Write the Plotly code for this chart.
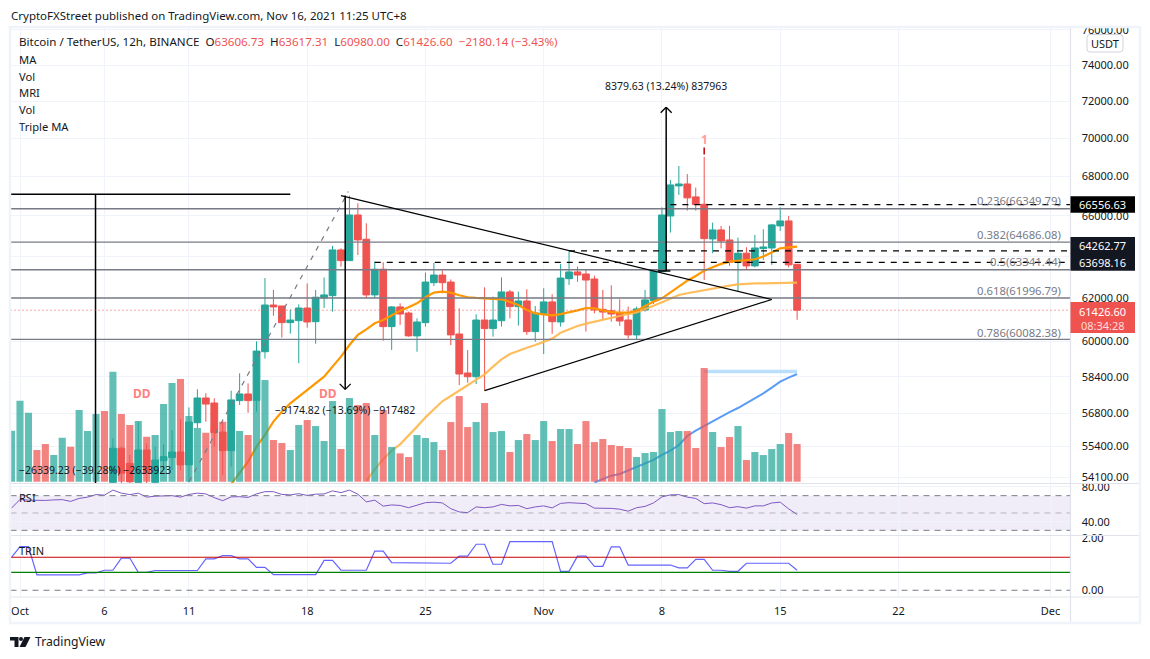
import numpy as np
import pandas as pd
import plotly.graph_objects as go

W, H = 1150, 659
# the page keeps its 8px body margin, so the figure is a bit smaller than the window
FIG_W, FIG_H = W - 16, H - 16
FONT = "Noto Sans"
GREEN, RED = "#26a69a", "#ef5350"
GREY = "#787b86"
GRID = "#f0f3fa"

# 12h bars, first one is Sep 30 12:00, last one Nov 16 00:00
bar_times = pd.date_range("2021-09-30 12:00", periods=94, freq="12h")

# candles start at bar 12, older ones sit below the visible price range
cand_open = [53900, 55310, 54680, 53900, 55240, 53900, 54790, 54920, 55155, 54615,
             56395, 57465, 57245, 55995, 55210, 57350, 57640, 57350, 59520, 61670,
             61625, 60850, 60940, 61530, 60895, 62000, 62110, 64305, 63785, 66035,
             64830, 62145, 63370, 60665, 61580, 61295, 60240, 60850, 62725, 63090,
             62755, 60325, 58565, 58400, 60970, 60575, 60940, 62285, 61595, 61860,
             60435, 61265, 61815, 60880, 62915, 63240, 63140, 62900, 61465, 61400,
             61310, 60970, 60285, 61435, 61875, 63250, 65985, 67510, 67610, 66950,
             66575, 64845, 65290, 64795, 63705, 64145, 63530, 64370, 64400, 65490,
             65737, 63606.73]
cand_close = [55310, 54270, 53920, 55240, 54270, 54820, 54960, 55155, 54615, 56425,
              57465, 57200, 55970, 55210, 57380, 57640, 57350, 59550, 61670, 61580,
              60850, 60970, 61530, 60880, 62035, 62145, 64305, 63785, 66035, 64795,
              62145, 63370, 60665, 61580, 61250, 60240, 60880, 62755, 63090, 62725,
              60285, 58520, 58400, 60970, 60575, 60970, 62285, 61595, 61860, 60435,
              61295, 61815, 60895, 62945, 63240, 63090, 62850, 61435, 61340, 61250,
              60925, 60285, 61485, 61910, 63290, 66035, 67560, 67610, 66900, 66560,
              64860, 65290, 64745, 63705, 64145, 63530, 64400, 64450, 65540, 65737,
              63580, 61426.60]
cand_high = [55730, 55375, 55030, 56440, 55515, 55375, 55475, 56085, 56555, 57055,
             57845, 57670, 57450, 56440, 57785, 58550, 58105, 59990, 62945, 62380,
             61625, 61465, 61700, 62690, 62380, 62975, 64500, 64385, 67015, 66625,
             65620, 63740, 63705, 61625, 61750, 61360, 61050, 63210, 63675, 63320,
             62880, 61515, 59595, 61235, 62505, 62065, 62975, 62380, 62300, 62410,
             61625, 62460, 62175, 63625, 64270, 63495, 63370, 63060, 62380, 62600,
             61940, 61595, 61595, 62380, 63320, 66420, 67813, 68540, 68120, 67425,
             69020, 65655, 65490, 65490, 64910, 64435, 65040, 65325, 65590, 66420,
             65985, 63617.31]
cand_low = [53500, 53800, 53600, 53600, 53800, 53700, 54405, 54405, 54405, 53900,
            56155, 56440, 55375, 54195, 54545, 57160, 56825, 56865, 59210, 61170,
            60160, 60345, 59000, 60620, 59880, 61530, 61360, 63495, 63785, 64060,
            61985, 61985, 60020, 59600, 60745, 60205, 59520, 60665, 62565, 62220,
            59820, 58035, 58135, 58075, 57785, 60205, 60665, 61050, 60710, 60285,
            59975, 59415, 60330, 60665, 62615, 62770, 60435, 61280, 60970, 60895,
            60695, 60115, 60085, 61360, 61720, 63250, 65160, 67050, 66255, 66255,
            62850, 64145, 64385, 63530, 62300, 63370, 63465, 63820, 63580, 65240,
            63465, 60980]

volume = [15300, 24300, 20700, 9500, 11300, 8000, 13200, 10500, 21500, 15200, 20300, 21200,
          33000, 20300, 17000, 18200, 13500, 14000, 23300, 29600, 30800, 19700, 16100, 14700,
          16700, 18000, 21500, 15200, 14000, 24300, 30500, 12500, 11600, 9500, 17000, 18500,
          16700, 12200, 24200, 9800, 25100, 23000, 23600, 14000, 21500, 10400, 8500, 7400,
          14000, 13100, 11900, 9500, 17900, 25700, 16400, 17900, 23600, 14900, 15200, 8900,
          12500, 14300, 12500, 18200, 12200, 15800, 15800, 11300, 18200, 11900, 12800, 11000,
          10700, 10100, 7400, 8600, 8900, 21800, 14900, 15200, 15200, 10100, 34100, 14900,
          10400, 13400, 16700, 6500, 8900, 8000, 9800, 11300, 14600, 11300]
# direction of the first 12 bars, their candles are off the chart
early_up = [True, True, True, False, False, True, True, False, True, True, True, False]

ma_fast = [53824, 54267, 54752, 55375, 55872, 56440, 56868, 57232, 57524, 57786, 58077, 58401,
           58850, 59298, 59823, 60283, 60543, 60819, 60972, 61202, 61405, 61562, 61750, 62033,
           62253, 62300, 62253, 62127, 62033, 62002, 61986, 61955, 61939, 61813, 61672, 61436,
           61279, 61233, 61187, 61248, 61326, 61420, 61530, 61515, 61420, 61342, 61310, 61310,
           61405, 61625, 61829, 61986, 62253, 62536, 62819, 63044, 63302, 63464, 63626, 63739,
           63787, 63820, 63852, 63981, 64175, 64385, 64434, 64466]
ma_mid = [53960, 54433, 54849, 55209, 55474, 55829, 56227, 56625, 56970, 57320, 57553, 57786,
          58004, 58252, 58506, 58850, 59178, 59417, 59567, 59701, 59823, 59976, 60114, 60390,
          60543, 60696, 60804, 60896, 61003, 61095, 61156, 61248, 61326, 61499, 61640, 61797,
          61986, 62143, 62222, 62300, 62363, 62441, 62520, 62583, 62646, 62677, 62693, 62693,
          62693, 62709, 62724, 62724]
ma_slow = [53893, 54032, 54170, 54239, 54378, 54516, 54655, 54821, 55029, 55209, 55446, 55829,
           56057, 56255, 56468, 56682, 56853, 57028, 57232, 57451, 57669, 57917, 58179, 58357,
           58521]
vol_band_level = 58631

rsi = [55.6, 65.7, 64.8, 64.5, 64.5, 65.1, 65.4, 63.4, 66.8, 68.3, 71.2, 70.6, 76.4, 72.9, 71.2,
       72.9, 68.3, 69.4, 70.0, 70.0, 68.3, 71.4, 72.9, 72.0, 67.7, 64.2, 68.6, 68.8, 68.0, 72.0,
       74.6, 74.6, 71.4, 70.9, 72.3, 70.3, 71.7, 72.0, 75.5, 73.5, 76.4, 71.7, 62.8, 64.8, 57.9,
       59.3, 58.7, 56.1, 59.0, 61.9, 62.5, 61.6, 55.0, 51.2, 50.4, 57.0, 56.1, 57.0, 59.9, 58.2,
       58.7, 55.0, 57.0, 58.2, 55.9, 61.1, 61.9, 61.6, 60.8, 55.6, 55.6, 55.3, 54.4, 52.1, 56.1,
       57.6, 61.6, 68.6, 70.9, 71.2, 68.3, 66.8, 60.8, 61.6, 59.6, 56.1, 57.3, 55.6, 58.2, 58.2,
       61.6, 62.5, 54.7, 48.3]

trin = [1.27, 1.68, 1.68, 0.59, 0.59, 0.59, 0.59, 0.59, 0.59, 0.67, 0.67, 0.77, 0.77, 1.24, 1.24,
        0.69, 0.69, 0.76, 0.76, 0.76, 0.76, 0.76, 0.76, 1.21, 1.21, 1.33, 1.33, 1.21, 1.21, 0.88,
        0.88, 0.60, 0.60, 0.60, 0.60, 0.60, 0.60, 1.15, 1.15, 0.77, 0.77, 0.77, 0.77, 1.51, 1.51,
        1.06, 1.06, 1.06, 1.06, 1.06, 1.05, 1.04, 1.04, 1.31, 1.31, 1.77, 1.77, 1.00, 1.00, 1.87,
        1.87, 1.87, 1.87, 1.87, 1.87, 0.73, 0.73, 1.31, 1.31, 0.92, 0.92, 1.67, 1.67, 0.97, 0.97,
        0.97, 0.97, 0.97, 0.97, 0.86, 0.86, 1.19, 1.19, 0.77, 0.77, 0.73, 0.73, 1.04, 1.04, 1.04,
        1.04, 1.04, 1.04, 0.77]
trin_upper, trin_lower = 1.27, 0.69

fib_prices = [66349.79, 64686.08, 63341.44, 61996.79, 60082.38]
fib_labels = ["0.236(66349.79)", "0.382(64686.08)", "0.5(63341.44)", "0.618(61996.79)", "0.786(60082.38)"]
pivot_prices = [66556.63, 64262.77, 63698.16]
pivot_start_bars = [78, 66, 43]
last_price = 61426.60
signal_price = 69320

price_ticks = [76000, 74000, 72000, 70000, 68000, 66000, 64000, 62000, 60000, 58400, 56800, 55400, 54100]
# 64000 has its grid line but the price tags hide the label
price_tick_labels = ["76000.00", "74000.00", "72000.00", "70000.00", "68000.00", "66000.00", "",
                     "62000.00", "60000.00", "58400.00", "56800.00", "55400.00", "54100.00"]
time_ticks = ["2021-10-01", "2021-10-06", "2021-10-11", "2021-10-18", "2021-10-25",
              "2021-11-01", "2021-11-08", "2021-11-15", "2021-11-22", "2021-12-01"]
time_labels = ["Oct", "6", "11", "18", "25", "Nov", "8", "15", "22", "Dec"]


def bar_t(i):
    return bar_times[0] + pd.Timedelta(hours=12 * i)


# window pixels to paper fractions
def px(x):
    return (x - 8) / FIG_W


def py(y):
    return 1 - (y - 8) / FIG_H


price_range = [np.log10(53870), np.log10(76173)]
x_range = ["2021-09-30 10:30", "2021-12-02 04:24"]

fig = go.Figure()

# price pane
fig.add_trace(go.Scatter(x=bar_times[69:], y=ma_slow, mode="lines", line=dict(color="#5b9cf6", width=2)))
fig.add_trace(go.Scatter(x=bar_times[82:], y=[vol_band_level] * 12, mode="lines",
                         line=dict(color="#bbdefb", width=3.5)))
fig.add_trace(go.Scatter(x=bar_times[42:], y=ma_mid, mode="lines",
                         line=dict(color="rgba(255,183,77,0.9)", width=2.2)))
fig.add_trace(go.Scatter(x=bar_times[26:], y=ma_fast, mode="lines", line=dict(color="#ff9800", width=2.2)))
fig.add_trace(go.Candlestick(
    x=bar_times[12:], open=cand_open, high=cand_high, low=cand_low, close=cand_close,
    increasing=dict(line=dict(color=GREEN, width=1), fillcolor=GREEN),
    decreasing=dict(line=dict(color=RED, width=1), fillcolor=RED),
    whiskerwidth=0,
))
fig.add_trace(go.Scatter(x=[bar_times[82]], y=[signal_price], mode="markers",
                         marker=dict(symbol="line-ns-open", size=5, color="#c00000", line=dict(width=1.5, color="#c00000"))))

# volume on top of the price pane, half see through
up_flags = early_up + [c >= o for o, c in zip(cand_open, cand_close)]
vol_colors = ["rgba(38,166,154,0.72)" if u else "rgba(239,83,80,0.72)" for u in up_flags]
fig.add_trace(go.Bar(x=bar_times, y=volume, marker=dict(color=vol_colors, line=dict(width=0)),
                     width=12 * 3600 * 1000 * 0.84, yaxis="y2"))

# lower panes
fig.add_trace(go.Scatter(x=bar_times, y=rsi, mode="lines", line=dict(color="#7e57c2", width=1), yaxis="y3"))
fig.add_trace(go.Scatter(x=bar_times, y=trin, mode="lines", line=dict(color="#6464ff", width=1.2), yaxis="y4"))

shapes = []


def add_line(x0, y0, x1, y1, color="#000000", width=1.5, dash=None):
    shapes.append(dict(type="line", xref="x", yref="y", x0=x0, y0=y0, x1=x1, y1=y1,
                       line=dict(color=color, width=width, dash=dash), layer="above"))


def add_hline(y, yref, color, width=1, dash=None):
    shapes.append(dict(type="line", xref="x domain", yref=yref, x0=0, x1=1, y0=y, y1=y,
                       line=dict(color=color, width=width, dash=dash), layer="above"))


def add_chevron(bar, price, factor):
    # arrow head legs, factor moves the leg ends up or down on the log axis
    for db in (-0.65, 0.65):
        add_line(bar_t(bar), price, bar_t(bar + db), price * factor, width=1.3)


def add_paper_line(x0, y0, x1, y1, color, width=1):
    shapes.append(dict(type="line", xref="paper", yref="paper", x0=px(x0), x1=px(x1), y0=py(y0), y1=py(y1),
                       line=dict(color=color, width=width), layer="above"))


# drawings on the chart
for p in fib_prices:
    add_hline(p, "y", GREY, 1.4)
for p, start in zip(pivot_prices, pivot_start_bars):
    add_line(bar_t(start), p, x_range[1], p, width=1.3, dash="6px,6px")
add_line(bar_t(21), 53920, bar_t(39.87), 67220, color=GREY, width=1.2, dash="5px,6px")
# triangle
add_line(bar_t(39), 67015, bar_t(90), 61930, width=1.2)
add_line(bar_t(56), 57785, bar_t(90), 61930, width=1.2)
# measure tools
add_line(x_range[0], 67085, bar_t(33), 67085)
add_line(bar_t(9.94), 67085, bar_t(9.94), 40746)
add_line(bar_t(39.5), 67015, bar_t(39.5), 57840)
add_chevron(39.5, 57840, 1.0042)
add_line(bar_t(77.5), 63286, bar_t(77.5), 71666)
add_line(bar_t(76.5), 63286, bar_t(78), 63286)
add_chevron(77.5, 71666, 0.9958)
# last price
add_hline(last_price, "y", RED, 1, "1px,3px")

# rsi pane
shapes.append(dict(type="rect", xref="x domain", yref="y3", x0=0, x1=1, y0=30, y1=70,
                   fillcolor="rgba(126,87,194,0.11)", line=dict(width=0), layer="below"))
add_hline(70, "y3", GREY, 1, "6px,5px")
add_hline(50, "y3", "rgba(120,123,134,0.5)", 1, "6px,5px")
add_hline(30, "y3", GREY, 1, "6px,5px")
# trin pane
add_hline(trin_upper, "y4", "#cc0000", 1.2)
add_hline(trin_lower, "y4", "#008000", 1.2)
add_hline(0, "y4", GREY, 1, "6px,5px")

# cover above the pane, cuts the top tick label like the original
shapes.append(dict(type="rect", xref="paper", yref="paper", x0=0, x1=1, y0=py(27), y1=1,
                   fillcolor="white", line=dict(width=0), layer="above"))
# frame and separators
for y in (483.5, 535.5, 597):
    add_paper_line(10, y, 1140, y, "#e0e3eb", 1.2)
add_paper_line(1070.5, 27, 1070.5, 623, "#e0e3eb", 1.2)
shapes.append(dict(type="rect", xref="paper", yref="paper", x0=px(10), x1=px(1140), y0=py(623), y1=py(27),
                   line=dict(color=GRID, width=2.5), layer="above"))
# currency button
shapes.append(dict(type="path", xref="paper", yref="paper", layer="above", fillcolor="white",
                   line=dict(color="#d1d4dc", width=1),
                   path="M {} {} L {} {} Q {} {} {} {} L {} {} Q {} {} {} {} L {} {} Q {} {} {} {} L {} {} Q {} {} {} {} Z".format(
                       px(1090), py(34.5), px(1120), py(34.5), px(1123), py(34.5), px(1123), py(37.5),
                       px(1123), py(49), px(1123), py(52), px(1120), py(52),
                       px(1090), py(52), px(1087), py(52), px(1087), py(49),
                       px(1087), py(37.5), px(1087), py(34.5), px(1090), py(34.5))))


def add_poly(points):
    path = "M " + " L ".join(f"{px(x)} {py(y)}" for x, y in points) + " Z"
    shapes.append(dict(type="path", xref="paper", yref="paper", path=path, fillcolor="#131722",
                       line=dict(width=0), layer="above"))


# TradingView mark
add_poly([(10, 637), (18.5, 637), (18.5, 647), (14.5, 647), (14.5, 640.5), (10, 640.5)])
add_poly([(24.5, 637), (30.5, 637), (25.5, 647), (19.5, 647)])
shapes.append(dict(type="circle", xref="paper", yref="paper", x0=px(19), x1=px(23), y0=py(641), y1=py(637),
                   fillcolor="#131722", line=dict(width=0), layer="above"))

annotations = []


def add_text(x, y, text, size=11, color="#131722", anchor="left", bg=None, **kw):
    annotations.append(dict(xref="paper", yref="paper", x=px(x), y=py(y), text=text, showarrow=False,
                            xanchor=anchor, yanchor="middle", font=dict(family=FONT, size=size, color=color),
                            bgcolor=bg, borderpad=0, **kw))


add_text(10, 15.5, "CryptoFXStreet published on TradingView.com, Nov 16, 2021 11:25 UTC+8", size=11.5)
red = lambda s: f'<span style="color:{RED}">{s}</span>'
gap = "&nbsp;&nbsp;"
add_text(18, 42, "Bitcoin / TetherUS, 12h, BINANCE" + gap + "O" + red("63606.73") + gap + "H" + red("63617.31") + gap
         + "L" + red("60980.00") + gap + "C" + red("61426.60") + gap + red("−2180.14 (−3.43%)"), size=11.6)
for y, name in zip((59.5, 76, 92.5, 109.5, 126.5), ("MA", "Vol", "MRI", "Vol", "Triple MA")):
    add_text(18, y, name, size=11.2)
add_text(1105, 43.5, "USDT", anchor="center")

for p_label, y in zip(fib_labels, (200.5, 234.5, 261, 290.5, 332)):
    add_text(1061.5, y, p_label, size=11.3, color=GREY, anchor="right")

add_text(95, 470, "−26339.23 (−39.28%) −2633923", size=10.5, anchor="center")
add_text(345, 410, "−9174.82 (−13.69%) −917482", size=10.5, anchor="center")
add_text(666, 85.5, "8379.63 (13.24%) 837963", size=10.5, anchor="center")
add_text(142, 393, "<b>DD</b>", size=12, color="#ff7f7f", anchor="center")
add_text(328, 393, "<b>DD</b>", size=12, color="#ff7f7f", anchor="center")
add_text(704.7, 139.5, "<b>1</b>", size=12, color="#ff9c9c", anchor="center")
add_text(18, 497, "RSI")
add_text(18, 550.5, "TRIN")
add_text(33.5, 641, "TradingView", size=12.2)


def add_price_tag(y, h, text, bg):
    shapes.append(dict(type="rect", xref="paper", yref="paper", x0=px(1070.5), x1=px(1135), y0=py(y + h / 2), y1=py(y - h / 2),
                       fillcolor=bg, line=dict(width=0), layer="above"))
    add_text(1102.8, y, text, color="white", anchor="center")


add_price_tag(204.5, 16.5, "66556.63", "#000000")
add_price_tag(245.5, 17, "64262.77", "#131722")
add_price_tag(262.3, 17, "63698.16", "#131722")
shapes.append(dict(type="rect", xref="paper", yref="paper", x0=px(1070.5), x1=px(1135), y0=py(333), y1=py(302),
                   fillcolor=RED, line=dict(width=0), layer="above"))
add_text(1102.8, 311, "61426.60", color="white", anchor="center")
add_text(1102.8, 325, "08:34:28", color="#ffdddd", anchor="center")

axis_font = dict(family=FONT, size=11, color="#131722")
hidden = dict(showgrid=False, zeroline=False, showticklabels=False, ticks="", automargin=False)


def y_axis(**kw):
    base = dict(side="right", anchor="x", showline=False, zeroline=False, gridcolor=GRID, gridwidth=1,
                ticks="outside", ticklen=8, tickcolor="rgba(0,0,0,0)", tickfont=axis_font, automargin=False)
    base.update(kw)
    return base


fig.update_layout(
    width=FIG_W, height=FIG_H, autosize=False, margin=dict(l=0, r=0, t=0, b=0, autoexpand=False),
    paper_bgcolor="white", plot_bgcolor="white", showlegend=False, hovermode=False,
    boxgap=0.2, boxgroupgap=0.0,
    xaxis=dict(domain=[px(10.5), px(1070.5)], range=x_range, type="date", anchor="y4", automargin=False,
               rangeslider=dict(visible=False), tickvals=time_ticks, ticktext=time_labels, tickangle=0,
               showgrid=True, gridcolor=GRID, gridwidth=1, showline=False, zeroline=False,
               ticks="outside", ticklen=4, tickcolor="rgba(0,0,0,0)", tickfont=axis_font),
    yaxis=y_axis(domain=[py(483), py(27)], type="log", range=price_range, tickvals=price_ticks,
                 ticktext=price_tick_labels),
    yaxis2=dict(domain=[py(483), py(27)], overlaying="y", range=[-390, 136410], anchor="x", side="left", **hidden),
    yaxis3=y_axis(domain=[py(535), py(485)], range=[24.6, 82.3], tickvals=[80, 40], ticktext=["80.00", "40.00"]),
    yaxis4=y_axis(domain=[py(597), py(537)], range=[-0.26, 2.05], tickvals=[2, 0], ticktext=["2.00", "0.00"], showgrid=False),
    shapes=shapes, annotations=annotations,
)

fig.write_html("out.html")
